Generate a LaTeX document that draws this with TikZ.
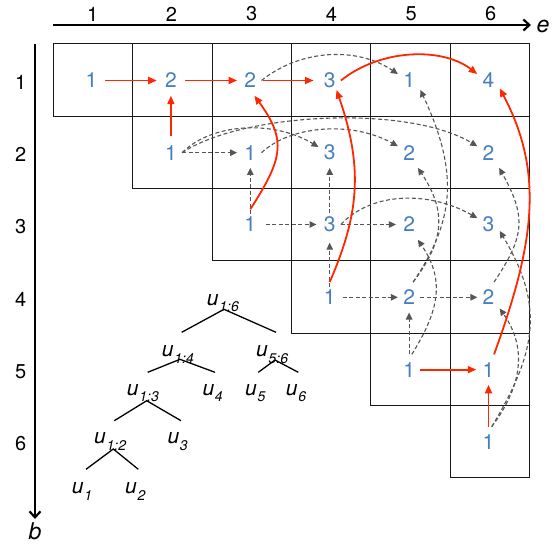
\documentclass[tikz,border=0pt]{standalone}
\usepackage{fontspec}
\setmainfont{TeX Gyre Heros}
\usetikzlibrary{arrows.meta}
\definecolor{numblue}{RGB}{70,126,190}
\definecolor{pathred}{RGB}{255,38,0}
\definecolor{depgray}{RGB}{85,85,85}
\newcommand{\uvar}[1]{\textit{u}\kern0.8pt\raisebox{-6.7pt}{\fontsize{14}{14}\selectfont\textit{#1}}}
\begin{document}
\begin{tikzpicture}[x=1pt,y=-1pt,
  num/.style={text=numblue, font=\fontsize{21}{21}\selectfont, shape=rectangle, inner sep=0pt, minimum width=22pt, minimum height=30pt},
  gridline/.style={draw=black!90, line width=1.4pt, line cap=rect},
  redarr/.style={draw=pathred, line width=1.8pt, -{Triangle[length=8.5pt,width=7pt]}},
  deparr/.style={draw=depgray, line width=1.1pt, dash pattern=on 4pt off 2.5pt, -{Triangle[length=7pt,width=6.5pt]}},
  axis/.style={line width=2.2pt, -{Straight Barb[length=6pt,width=11pt]}},
  axlab/.style={font=\fontsize{20}{20}\selectfont, inner sep=0pt},
  tlab/.style={font=\fontsize{21}{21}\selectfont, anchor=base west, inner sep=0pt},
  tline/.style={line width=1.3pt},
]
\useasboundingbox (0,0) rectangle (559,547);
% grid (staircase of cells)
\draw[gridline] (53.5,43.5) -- (529.5,43.5);
\draw[gridline] (53.5,116.5) -- (529.5,116.5);
\draw[gridline] (132.5,188.5) -- (529.5,188.5);
\draw[gridline] (212.5,260.5) -- (529.5,260.5);
\draw[gridline] (291.5,333.5) -- (529.5,333.5);
\draw[gridline] (370.5,405.5) -- (529.5,405.5);
\draw[gridline] (450.5,477.5) -- (529.5,477.5);
\draw[gridline] (53.5,43.5) -- (53.5,116.5);
\draw[gridline] (132.5,43.5) -- (132.5,188.5);
\draw[gridline] (212.5,43.5) -- (212.5,260.5);
\draw[gridline] (291.5,43.5) -- (291.5,333.5);
\draw[gridline] (370.5,43.5) -- (370.5,405.5);
\draw[gridline] (450.5,43.5) -- (450.5,477.5);
\draw[gridline] (529.5,43.5) -- (529.5,477.5);
% axes
\coordinate (xa0) at (53.3,25);
\coordinate (xa1) at (531,25);
\coordinate (ya0) at (35,43.7);
\coordinate (ya1) at (35,519);
\draw[axis] (xa0) -- (xa1);
\draw[axis] (ya0) -- (ya1);
\node[font=\fontsize{23}{23}\selectfont\itshape, inner sep=0pt] (elab) at (543,26) {e};
\node[font=\fontsize{23}{23}\selectfont\itshape, inner sep=0pt] (blab) at (35,531) {b};
\node[axlab] (c1) at (92.7,14) {1};
\node[axlab] (c2) at (171.5,14) {2};
\node[axlab] (c3) at (251.7,14) {3};
\node[axlab] (c4) at (331.5,14) {4};
\node[axlab] (c5) at (411.2,14) {5};
\node[axlab] (c6) at (490.7,14) {6};
\node[axlab] (r1) at (20.7,82) {1};
\node[axlab] (r2) at (20.7,154) {2};
\node[axlab] (r3) at (20.7,226.5) {3};
\node[axlab] (r4) at (20.7,299.3) {4};
\node[axlab] (r5) at (20.7,371.7) {5};
\node[axlab] (r6) at (20.7,443.3) {6};
% chart values
\node[num] (n11) at (91.5,80.5) {1};
\node[num] (n12) at (170.9,80.5) {2};
\node[num] (n13) at (250.3,80.5) {2};
\node[num] (n14) at (329.7,80.5) {3};
\node[num] (n15) at (409.1,80.5) {1};
\node[num] (n16) at (488.5,80.5) {4};
\node[num] (n22) at (170.9,152.7) {1};
\node[num] (n23) at (250.3,152.7) {1};
\node[num] (n24) at (329.7,152.7) {3};
\node[num] (n25) at (409.1,152.7) {2};
\node[num] (n26) at (488.5,152.7) {2};
\node[num] (n33) at (250.3,224.5) {1};
\node[num] (n34) at (329.7,224.5) {3};
\node[num] (n35) at (409.1,224.5) {2};
\node[num] (n36) at (488.5,224.5) {3};
\node[num] (n44) at (329.7,297.3) {1};
\node[num] (n45) at (409.1,297.3) {2};
\node[num] (n46) at (488.5,297.3) {2};
\node[num] (n55) at (409.1,369.6) {1};
\node[num] (n56) at (488.5,369.6) {1};
\node[num] (n66) at (488.5,441.9) {1};
% dashed dependencies
\draw[deparr, shorten >=2pt] (n22.east) -- (n23.west);
\draw[deparr] (n22.east) .. controls +(30,-30) and +(-45,-27) .. (n24.153);
\draw[deparr] (n22.east) .. controls +(60,-40) and +(-70,-42) .. (n26.150);
\draw[deparr] (n23.east) .. controls +(30,-28) and +(-45,-25) .. (n25.150);
\draw[deparr] (n13.east) .. controls +(40,-32) and +(-40,-27) .. (n15.150);
\draw[deparr, shorten <=-5pt] (n33.north) -- (n23.south);
\draw[deparr, shorten <=-4pt] (n34.north) -- (n24.south);
\draw[deparr, shorten <=-5pt, shorten >=3pt] (n44.north) -- (n34.south);
\draw[deparr] (n55.north) -- (n45.south);
\draw[deparr, shorten <=4pt, shorten >=2pt] (n33.east) -- (n34.west);
\draw[deparr, shorten >=2pt] (n34.east) -- (n35.west);
\draw[deparr] (n34.east) .. controls +(30,-32) and +(-50,-28) .. (n36.150);
\draw[deparr, shorten <=2pt] (n44.east) -- (n45.west);
\draw[deparr] (n45.east) -- (n46.west);
\draw[deparr] (n45.75) .. controls +(40,-60) and +(40,85) .. (n15.-40);
\draw[deparr] (n45.75) .. controls +(30,-40) and +(30,45) .. (n25.-60);
\draw[deparr] (n55.80) .. controls +(28,-45) and +(27,40) .. (n35.-60);
\draw[deparr] (n46.70) .. controls +(30,-45) and +(28,50) .. (n26.-55);
\draw[deparr] (n66.78) .. controls +(45,-75) and +(45,75) .. (n36.-30);
\draw[deparr] (n66.78) .. controls +(30,-40) and +(28,40) .. (n46.-45);
% best path
\draw[redarr, shorten <=2pt, shorten >=3pt] (n11.east) -- (n12.west);
\draw[redarr, shorten <=3pt, shorten >=2pt] (n12.east) -- (n13.west);
\draw[redarr, shorten <=1pt, shorten >=5pt] (n13.east) -- (n14.west);
\draw[redarr, shorten <=2pt] (n22.north) -- (n12.south);
\draw[redarr] (n33.north) .. controls +(32,-50) and +(33,45) .. (n13.-75);
\draw[redarr, shorten >=-6pt] (n44.north) .. controls +(28,-65) and +(26,75) .. (n14.-60);
\draw[redarr] (n14.east) .. controls +(40,-32) and +(-35,-27) .. (n16.150);
\draw[redarr, shorten >=1pt] (n55.east) -- (n56.west);
\draw[redarr] (n66.north) -- (n56.south);
\draw[redarr] (n56.70) .. controls +(40,-110) and +(45,85) .. (n16.-35);
% tree
\node[tlab] (t16) at (206.7,305) {\uvar{1:6}};
\node[tlab] (t14) at (161.7,356.7) {\uvar{1:4}};
\node[tlab] (t56) at (256,356.7) {\uvar{5:6}};
\node[tlab] (t13) at (126.7,395) {\uvar{1:3}};
\node[tlab] (t4) at (202.3,395) {\uvar{4}};
\node[tlab] (t5) at (245,395) {\uvar{5}};
\node[tlab] (t6) at (285.7,395) {\uvar{6}};
\node[tlab] (t12) at (94,443.3) {\uvar{1:2}};
\node[tlab] (t3) at (167.3,443.3) {\uvar{3}};
\node[tlab] (t1) at (71.7,493.3) {\uvar{1}};
\node[tlab] (t2) at (125,493.3) {\uvar{2}};
\coordinate (j16) at (224,309.3);
\coordinate (j16l) at (181.7,332.3);
\coordinate (j16r) at (276,332.3);
\coordinate (j14) at (180,359.3);
\coordinate (j14l) at (147.7,372.3);
\coordinate (j14r) at (215,372.3);
\coordinate (j56) at (275,360);
\coordinate (j56l) at (258.3,372.3);
\coordinate (j56r) at (298.3,372.3);
\coordinate (j13) at (146.7,400.7);
\coordinate (j13l) at (114.3,420.7);
\coordinate (j13r) at (181,420.7);
\coordinate (j12) at (113.3,449);
\coordinate (j12l) at (86,469.3);
\coordinate (j12r) at (138.3,469.3);
\draw[tline] (j16l) -- (j16) -- (j16r);
\draw[tline] (j14l) -- (j14) -- (j14r);
\draw[tline] (j56l) -- (j56) -- (j56r);
\draw[tline] (j13l) -- (j13) -- (j13r);
\draw[tline] (j12l) -- (j12) -- (j12r);
\end{tikzpicture}
\end{document}
